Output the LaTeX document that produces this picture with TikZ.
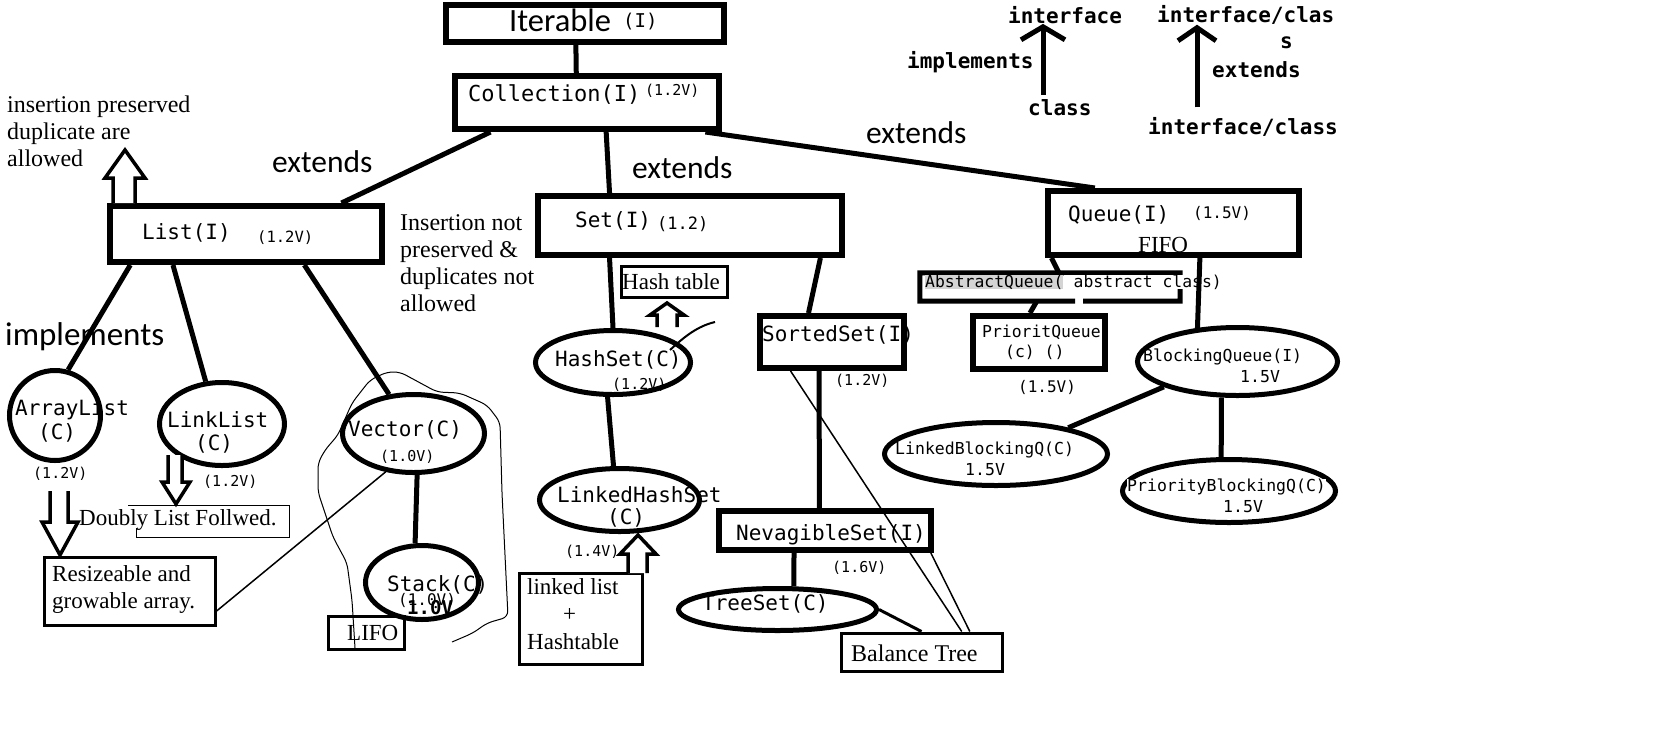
\documentclass[tikz,border=0pt]{standalone}
\usepackage{fontspec}
\setmainfont{Liberation Serif}
\newfontfamily\codefont{DejaVu Sans Mono}
\newfontfamily\calfont{Carlito}
\usetikzlibrary{shapes.geometric,positioning,arrows.meta}
\tikzset{
  box/.style={draw, line width=6pt, inner sep=0pt},
  lightbox/.style={draw, line width=3pt, inner sep=0pt},
  oval/.style={draw, ellipse, line width=5pt, inner sep=0pt},
  link/.style={line width=5pt},
  thinlink/.style={line width=1.5pt},
  blockarrow/.style={line width=3.5pt, fill=white},
  txt/.style={inner sep=0pt, anchor=west},
  mono/.style={txt, font=\codefont\fontsize{#1}{#1}\selectfont},
  boldmono/.style={txt, font=\codefont\bfseries\fontsize{#1}{#1}\selectfont},
  cal/.style={txt, font=\calfont\fontsize{#1}{#1}\selectfont},
  serif/.style={txt, align=left, font=\fontsize{#1}{27}\selectfont},
}

\begin{document}
\begin{tikzpicture}[x=1pt,y=-1pt]
    \useasboundingbox (0,0) rectangle (1653,748);

    % interfaces and boxes
    \node[box, minimum width=278, minimum height=37] (iterable) at (585,23.5) {};
    \node[box, minimum width=264, minimum height=53] (collection) at (587,102.5) {};
    \node[box, minimum width=272, minimum height=56] (list) at (246,234) {};
    \node[box, minimum width=304, minimum height=59] (set) at (690,225.5) {};
    \node[box, minimum width=251, minimum height=64] (queue) at (1173.5,223) {};
    \node[box, minimum width=144, minimum height=52] (sortedset) at (832,342) {};
    \node[box, minimum width=212, minimum height=39] (navset) at (825,530.5) {};
    \node[box, minimum width=132, minimum height=53] (prioq) at (1039,342.5) {};
    \node[minimum width=260, minimum height=28, inner sep=0pt] (absq) at (1050,287) {};
    \draw[link] (1083,301) -- (absq.south east) -- (absq.north east) -- (absq.north west) -- (absq.south west) -- (1075,301);

    % classes
    \node[oval, minimum width=91, minimum height=90] (arraylist) at (55,415.5) {};
    \node[oval, minimum width=125, minimum height=83] (linklist) at (222,424) {};
    \node[oval, minimum width=142, minimum height=78] (vector) at (413.5,433.5) {};
    \node[oval, minimum width=113, minimum height=74] (stack) at (422,582.5) {};
    \node[oval, minimum width=155, minimum height=64] (hashset) at (613,362.5) {};
    \node[oval, minimum width=160, minimum height=63] (linkedhs) at (619.5,500) {};
    \node[oval, minimum width=198, minimum height=42] (treeset) at (777.5,609.5) {};
    \node[oval, minimum width=200, minimum height=68] (blockq) at (1237.5,361.5) {};
    \node[oval, minimum width=223, minimum height=63] (linkedbq) at (996,454) {};
    \node[oval, minimum width=213, minimum height=63] (priobq) at (1229,491) {};

    % notes
    \node[lightbox, minimum width=106, minimum height=31] (hashtable) at (674,281.5) {};
    \node[lightbox, minimum width=161, minimum height=38] (balance) at (921.5,652) {};
    \node[lightbox, minimum width=76, minimum height=33] (lifo) at (366,632.5) {};
    \node[lightbox, minimum width=171, minimum height=68] (resize) at (129.5,591) {};
    \node[lightbox, minimum width=123, minimum height=91] (llbox) at (580.5,618.5) {};
    \draw[line width=1pt] (128,505) -- (289,505) -- (289,537) -- (136,537) -- (136,528);

    % hierarchy
    \draw[link] (iterable.-113.4) -- (collection.110.7);
    \draw[link] (collection.-163.1) -- (list.18.9);
    \draw[link] (collection.-57.3) -- (set.158.8);
    \draw[link] (collection.-14) -- (queue.156.5);
    \draw[link] (list.-165.8) -- (arraylist.74.4);
    \draw[link] (list.-157.9) -- (linklist.111);
    \draw[link] (list.-28.8) -- (vector.122.2);
    \draw[link] (vector.-85) -- (stack.100);
    \draw[link] (set.-158.8) -- (hashset.north);
    \draw[link] (set.-14) -- (sortedset.129.6);
    \draw[link] (hashset.-99.7) -- (linkedhs.100);
    \draw[link] (sortedset.-114.1) -- (navset.104.9);
    \draw[link] (navset.-144.9) -- (treeset.55);
    \draw[link] (queue.-164.3) -- (absq.58);
    \draw[link] (absq.-133.2) -- (prioq.107);
    \draw[link] (blockq.-161.8) -- (linkedbq.20);
    \draw[link] (blockq.-114) -- (priobq.103);
    \draw[line width=3pt] (treeset.east) -- (balance.north);
    \draw[thinlink] (sortedset.-145.4) -- (balance.27.4);
    \draw[thinlink] (navset.-12.1) -- (balance.23.3);
    \draw[thinlink] (resize.-13.5) -- (vector.-126);

    % fat arrows
    \draw[blockarrow] (113,203) -- (113,178) -- (105,178) -- (125,150) -- (145,178) -- (135,178) -- (135,203);
    \draw[blockarrow] (657,327) -- (657,315) -- (650,315) -- (667,303) -- (684,315) -- (677,315) -- (677,327);
    \draw[blockarrow] (628,573) -- (628,554) -- (620,554) -- (638,535) -- (656,554) -- (647,554) -- (647,573);
    \draw[blockarrow] (50,491) -- (50,522) -- (42,522) -- (60,555) -- (78,522) -- (68,522) -- (68,491);
    \draw[blockarrow] (168,455) -- (168,482) -- (162,482) -- (176,504) -- (190,482) -- (182,482) -- (182,455);

    % hand drawn marks
    \draw[line width=2pt] (670,350) .. controls (685,336) and (698,326) .. (715,322);
    \draw[line width=1pt, rounded corners=6pt] (355,648) -- (352,600) -- (347,563) -- (333,537) -- (318,492) -- (318,463) -- (325,450) -- (338,435) -- (352,403) -- (370,380) -- (387,372) -- (400,372) -- (437,392) -- (460,393) -- (487,405) -- (500,422) -- (502,493) -- (508,617) -- (487,623) -- (473,633) -- (452,642);

    % labels
    \node[cal=32.5] (iterTxt) at (509,20) {Iterable};
    \node[mono=19] (iterTag) at (623,22) {(I)};
    \node[mono=22] (collTxt) at (468,95) {Collection(I)};
    \node[mono=15] (collVer) at (645,91) {(1.2V)};
    \node[cal=31.5] (ext1) at (272,162) {extends};
    \node[cal=31.5] (ext2) at (632,168) {extends};
    \node[cal=31.5] (ext3) at (866,133) {extends};
    \node[cal=33] (impl) at (5,337) {implements};
    \node[mono=21] (listTxt) at (142,233) {List(I)};
    \node[mono=15.5] (listVer) at (257,238) {(1.2V)};
    \node[mono=21] (setTxt) at (575,221) {Set(I)};
    \node[mono=17] (setVer) at (657,224) {(1.2)};
    \node[mono=21] (queueTxt) at (1068,215) {Queue(I)};
    \node[mono=16] (queueVer) at (1193,213) {(1.5V)};
    \node[serif=23] (fifo) at (1138,245) {FIFO};
    \node[serif=24, anchor=north west] (listNote) at (7,96) {insertion preserved\\duplicate are\\allowed};
    \node[serif=24, anchor=north west] (setNote) at (400,214) {Insertion not\\preserved \&\\duplicates not\\allowed};

    \node[mono=21] (alTxt) at (15,410) {ArrayList};
    \node[mono=21] (alC) at (38,433) {(C)};
    \node[mono=15] (alVer) at (33,474) {(1.2V)};
    \node[mono=21] (llTxt) at (167,420) {LinkList};
    \node[mono=21] (llC) at (195,444) {(C)};
    \node[mono=15] (llVer) at (203,482) {(1.2V)};
    \node[mono=21] (vecTxt) at (348,430) {Vector(C)};
    \node[mono=15] (vecVer) at (380,457) {(1.0V)};
    \node[mono=21] (stackTxt) at (387,585) {Stack(C)};
    \node[mono=16] (stackVer) at (398,600) {(1.0V)};
    \node[boldmono=19] (stackVerB) at (407,608) {1.0V};
    \node[serif=23] (lifoTxt) at (347,633) {LIFO};
    \node[serif=23] (doubly) at (79,520) {Doubly List Follwed.};
    \node[serif=23, anchor=north west] (resizeTxt) at (52,565) {Resizeable and\\growable array.};

    \node[mono=21] (hsTxt) at (555,360) {HashSet(C)};
    \node[mono=15] (hsVer) at (612,385) {(1.2V)};
    \node[serif=23] (htTxt) at (622,282) {Hash table};
    \node[mono=21] (lhsTxt) at (557,495) {LinkedHashSet};
    \node[mono=21] (lhsC) at (607,518) {(C)};
    \node[mono=15] (lhsVer) at (565,552) {(1.4V)};
    \node[serif=23, anchor=north west, font=\fontsize{23}{27.5}\selectfont] (llNote) at (527,578) {linked list\\\hspace{36pt}+\\Hashtable};
    \node[mono=21] (ssTxt) at (762,335) {SortedSet(I)};
    \node[mono=15] (ssVer) at (835,381) {(1.2V)};
    \node[mono=21] (nsTxt) at (736,535) {NevagibleSet(I)};
    \node[mono=15] (nsVer) at (832,568) {(1.6V)};
    \node[mono=21] (tsTxt) at (702,604) {TreeSet(C)};
    \node[serif=24] (btTxt) at (851,653) {Balance Tree};

    \node[mono=16.4, fill=black!17] (aqA) at (925,282) {AbstractQueue(};
    \node[mono=16.4, fill=white, right=0pt of aqA] (aqB) {\ abstract class)};
    \draw[link] (queue.-53.7) -- (blockq.140);
    \node[mono=16.4] (pqTxt) at (982,332) {PrioritQueue};
    \node[mono=16.4] (pqC) at (1005,352) {(c) ()};
    \node[mono=16] (pqVer) at (1018,387) {(1.5V)};
    \node[mono=16.5] (bqTxt) at (1143,357) {BlockingQueue(I)};
    \node[mono=16.5] (bqVer) at (1240,377) {1.5V};
    \node[mono=16.5] (lbqTxt) at (895,450) {LinkedBlockingQ(C)};
    \node[mono=16.5] (lbqVer) at (965,470) {1.5V};
    \node[mono=16.5, fill=white] (pbqTxt) at (1127,487) {PriorityBlockingQ(C)};
    \node[mono=16.5] (pbqVer) at (1223,507) {1.5V};

    % legend
    \node[boldmono=21] (lgIface) at (1008,15) {interface};
    \node[boldmono=21] (lgImpl) at (907,62) {implements};
    \node[boldmono=21] (lgClass) at (1028,108) {class};
    \node[boldmono=21] (lgTop) at (1157,15) {interface/clas};
    \node[boldmono=21] (lgS) at (1280,43) {s};
    \node[boldmono=21] (lgExt) at (1212,70) {extends};
    \node[boldmono=21] (lgBottom) at (1148,127) {interface/class};
    \draw[line width=5pt, -{Straight Barb[length=13pt, width=44pt]}, shorten <=5pt] ([xshift=15pt]lgClass.north west) -- ([xshift=35pt]lgIface.south west);
    \draw[line width=5pt, -{Straight Barb[length=13pt, width=38pt]}, shorten <=10pt] ([xshift=49pt]lgBottom.north west) -- ([xshift=40pt]lgTop.south west);
\end{tikzpicture}
\end{document}
